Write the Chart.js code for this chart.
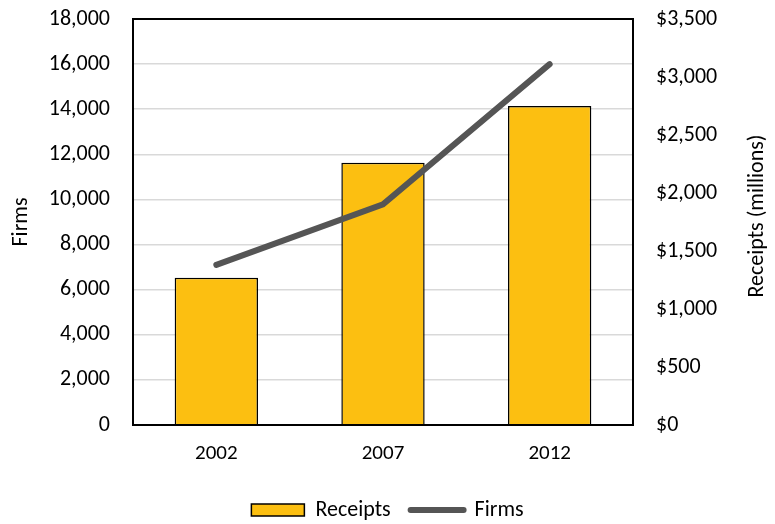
<!DOCTYPE html>
<html>
<head>
<meta charset="utf-8">
<script src="https://cdn.jsdelivr.net/npm/chart.js@4"></script>
<style>
  html, body { margin: 0; padding: 0; background: #fff; }
  #wrap { width: 775px; height: 524px; }
</style>
</head>
<body>
<div id="wrap"><canvas id="myChart"></canvas></div>
<script>
const years = ['2002', '2007', '2012'];
const receipts = [1270, 2260, 2750];   // $ millions, right axis
const firms = [7100, 9780, 16000];     // left axis

const firmsMax = 18000;
const firmsStep = 2000;
const receiptsMax = 3500;
const receiptsStep = 500;
const rightTitle = 'Receipts (millions)';

const barColor = '#fcbf11';
const lineColor = '#555555';
const fontFamily = 'Carlito, Calibri, Lato, "Liberation Sans", sans-serif';

// black box round the plot area + right axis title read bottom to top
const frame = {
    id: 'frame',
    afterDatasetsDraw(chart) {
        const a = chart.chartArea;
        const c = chart.ctx;
        c.save();
        c.strokeStyle = '#000';
        c.lineWidth = 2;
        c.strokeRect(a.left, a.top, a.right - a.left, a.bottom - a.top);
        c.restore();
    },
    afterDraw(chart) {
        const a = chart.chartArea;
        const c = chart.ctx;
        c.save();
        c.translate(757, (a.top + a.bottom) / 2 - 6);
        c.rotate(-Math.PI / 2);
        c.fillStyle = '#000';
        c.font = '22px ' + fontFamily;
        c.textAlign = 'center';
        c.textBaseline = 'middle';
        c.fillText(rightTitle, 0, 0);
        c.restore();
    }
};

// y axes: fixed width, no extra top/bottom padding from the tick labels
function fitY(w) {
    return function(scale) {
        scale.width = w;
        scale.paddingTop = 0;
        scale.paddingBottom = 0;
    };
}

Chart.defaults.font.family = fontFamily;
Chart.defaults.font.size = 22;
Chart.defaults.color = '#000';

const ctx = document.getElementById('myChart').getContext('2d');

const data = {
    labels: years,
    datasets: [{
        type: 'bar',
        label: 'Receipts',
        data: receipts,
        yAxisID: 'yR',
        backgroundColor: barColor,
        borderColor: '#000',
        borderWidth: 1.5,
        barPercentage: 0.5,
        categoryPercentage: 1.0,
        order: 2
    }, {
        type: 'line',
        label: 'Firms',
        data: firms,
        yAxisID: 'yL',
        borderColor: lineColor,
        backgroundColor: lineColor,
        borderWidth: 6,
        borderCapStyle: 'round',
        pointRadius: 0,
        tension: 0,
        order: 1
    }]
};

const options = {
    responsive: true,
    maintainAspectRatio: false,
    animation: false,
    layout: { padding: { top: 19, left: 0, right: 0, bottom: -7 } },
    plugins: {
        tooltip: { enabled: false },
        legend: {
            position: 'bottom',
            labels: {
                usePointStyle: true,
                pointStyleWidth: 53,
                boxHeight: 12,
                padding: 20,
                font: { size: 22 },
                sort: function(a, b) { return a.datasetIndex - b.datasetIndex; },
                generateLabels: function(chart) {
                    let items = Chart.defaults.plugins.legend.labels.generateLabels(chart);
                    items.forEach(function(item) {
                        if (item.datasetIndex === 1) {
                            item.pointStyle = 'line';
                            item.lineWidth = 6;
                            item.strokeStyle = lineColor;
                            item.lineCap = 'round';
                        } else {
                            item.pointStyle = 'rect';
                            item.lineWidth = 1.5;
                            item.fillStyle = barColor;
                            item.strokeStyle = '#000';
                        }
                    });
                    return items;
                }
            }
        }
    },
    scales: {
        x: {
            grid: { display: false, drawTicks: false },
            border: { display: false },
            afterFit: function(scale) { scale.height = 54; },
            ticks: { padding: 16, font: { size: 21 } }
        },
        yL: {
            position: 'left',
            min: 0,
            max: firmsMax,
            afterFit: fitY(133),
            ticks: {
                stepSize: firmsStep,
                padding: 23,
                callback: function(v) { return v.toLocaleString('en-US'); }
            },
            grid: { color: '#d9d9d9', lineWidth: 1.5, drawTicks: false },
            border: { display: false },
            title: { display: true, text: 'Firms', font: { size: 22 }, padding: { top: 8, bottom: 0 } }
        },
        yR: {
            position: 'right',
            min: 0,
            max: receiptsMax,
            afterFit: fitY(142),
            ticks: {
                stepSize: receiptsStep,
                padding: 23,
                callback: function(v) { return '$' + v.toLocaleString('en-US'); }
            },
            grid: { display: false, drawTicks: false },
            border: { display: false }
        }
    }
};

let config = {
    type: 'bar',
    data: data,
    options: options,
    plugins: [frame]
};

let graph = new Chart(ctx, config);
</script>
</body>
</html>
